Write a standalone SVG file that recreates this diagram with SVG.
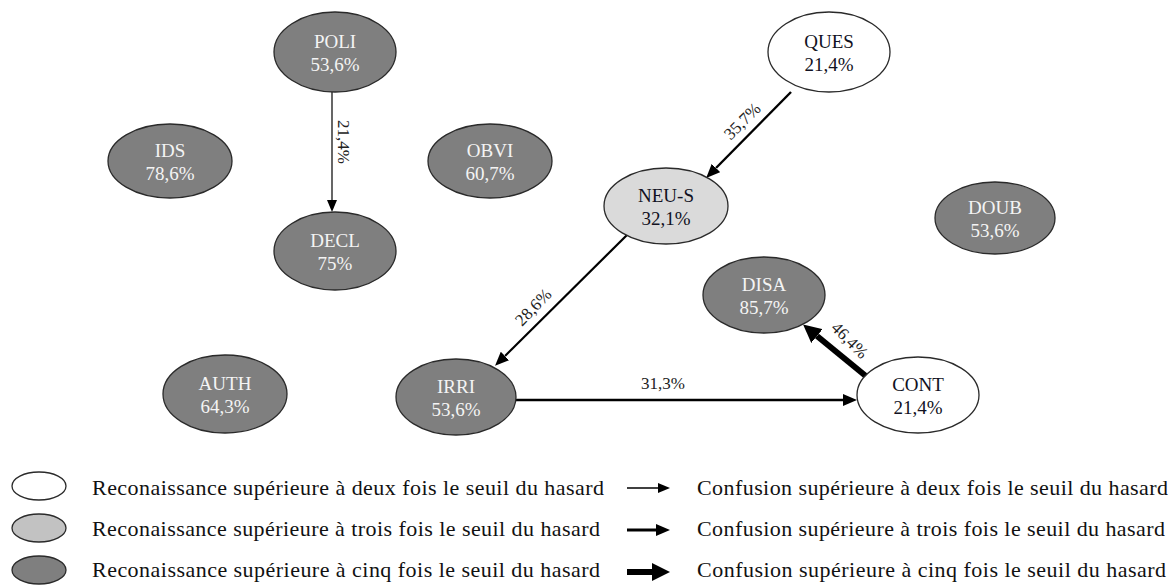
<svg xmlns="http://www.w3.org/2000/svg" width="1172" height="588" viewBox="0 0 1172 588">
<defs>
<style>
.n ellipse{stroke:#2a2a2a;stroke-width:1.3}
.dark ellipse{fill:#7f7f7f}
.dark text{fill:#f4f4f4}
.light ellipse{fill:#dadada}
.white ellipse{fill:#ffffff}
.light text,.white text{fill:#111122}
text{font-family:"Liberation Serif","Times New Roman",serif}
.n text{font-size:19px;text-anchor:middle}
.lbl{font-size:17px;fill:#222;text-anchor:middle}
.e{stroke:#000;fill:none}
.leg{font-size:22px;fill:#111}
</style>
<marker id="ah1" markerUnits="userSpaceOnUse" markerWidth="12" markerHeight="10" refX="0" refY="5" orient="auto"><path d="M0,0 L12,5 L0,10 z" fill="#000"/></marker>
<marker id="ah2" markerUnits="userSpaceOnUse" markerWidth="14" markerHeight="12" refX="0" refY="6" orient="auto"><path d="M0,0 L14,6 L0,12 z" fill="#000"/></marker>
<marker id="ah3" markerUnits="userSpaceOnUse" markerWidth="18" markerHeight="18" refX="0" refY="9" orient="auto"><path d="M0,0 L18,9 L0,18 z" fill="#000"/></marker>
</defs>
<rect width="1172" height="588" fill="#fff"/>

<g id="edges">
<line class="e" x1="332" y1="92" x2="332" y2="200" stroke-width="1.2" marker-end="url(#ah1)"/>
<line class="e" x1="791" y1="92" x2="716" y2="168" stroke-width="2.4" marker-end="url(#ah2)"/>
<line class="e" x1="627" y1="235" x2="505" y2="356" stroke-width="2.2" marker-end="url(#ah2)"/>
<line class="e" x1="516" y1="400" x2="843" y2="400" stroke-width="2.4" marker-end="url(#ah2)"/>
<line class="e" x1="867" y1="377" x2="817" y2="336" stroke-width="6" marker-end="url(#ah3)"/>
<text class="lbl" transform="translate(344,142) rotate(90)" x="0" y="6">21,4%</text>
<text class="lbl" transform="translate(742,121) rotate(-45)" x="0" y="6">35,7%</text>
<text class="lbl" transform="translate(533,307) rotate(-46)" x="0" y="6">28,6%</text>
<text class="lbl" transform="translate(663,383)" x="0" y="6">31,3%</text>
<text class="lbl" transform="translate(850,340) rotate(45)" x="0" y="6">46,4%</text>
</g>

<g id="POLI" class="n dark"><ellipse cx="335" cy="52" rx="61" ry="40"/><text x="335" y="48">POLI</text><text x="335" y="71">53,6%</text></g>
<g id="DECL" class="n dark"><ellipse cx="335" cy="251" rx="61" ry="39"/><text x="335" y="247">DECL</text><text x="335" y="270">75%</text></g>
<g id="IDS" class="n dark"><ellipse cx="170" cy="161" rx="62" ry="37"/><text x="170" y="157">IDS</text><text x="170" y="180">78,6%</text></g>
<g id="OBVI" class="n dark"><ellipse cx="490" cy="161" rx="62" ry="37"/><text x="490" y="157">OBVI</text><text x="490" y="180">60,7%</text></g>
<g id="QUES" class="n white"><ellipse cx="829" cy="52" rx="61" ry="40"/><text x="829" y="48">QUES</text><text x="829" y="71">21,4%</text></g>
<g id="NEU-S" class="n light"><ellipse cx="666" cy="206" rx="62" ry="38"/><text x="666" y="202">NEU-S</text><text x="666" y="225">32,1%</text></g>
<g id="DOUB" class="n dark"><ellipse cx="995" cy="218" rx="60" ry="36"/><text x="995" y="214">DOUB</text><text x="995" y="237">53,6%</text></g>
<g id="DISA" class="n dark"><ellipse cx="764" cy="295" rx="61" ry="38"/><text x="764" y="291">DISA</text><text x="764" y="314">85,7%</text></g>
<g id="AUTH" class="n dark"><ellipse cx="225" cy="394" rx="62" ry="39"/><text x="225" y="390">AUTH</text><text x="225" y="413">64,3%</text></g>
<g id="IRRI" class="n dark"><ellipse cx="456" cy="397" rx="60" ry="38"/><text x="456" y="393">IRRI</text><text x="456" y="416">53,6%</text></g>
<g id="CONT" class="n white"><ellipse cx="918" cy="395" rx="61" ry="38"/><text x="918" y="391">CONT</text><text x="918" y="414">21,4%</text></g>

<g id="legend">
<g class="n white"><ellipse cx="39" cy="486" rx="27" ry="14"/></g>
<g class="n light"><ellipse cx="39" cy="528" rx="27" ry="14" style="fill:#c2c2c2"/></g>
<g class="n dark"><ellipse cx="39" cy="570" rx="27" ry="14"/></g>
<text class="leg" x="92" y="495" textLength="512" lengthAdjust="spacing">Reconaissance supérieure à deux fois le seuil  du hasard</text>
<text class="leg" x="92" y="536" textLength="508" lengthAdjust="spacing">Reconaissance supérieure à trois fois le seuil du hasard</text>
<text class="leg" x="92" y="577" textLength="508" lengthAdjust="spacing">Reconaissance supérieure à cinq fois le seuil du hasard</text>
<line class="e" x1="627" y1="488" x2="658" y2="488" stroke-width="1.5" marker-end="url(#ah1)"/>
<line class="e" x1="627" y1="530" x2="656" y2="530" stroke-width="3" marker-end="url(#ah2)"/>
<line class="e" x1="627" y1="572" x2="652" y2="572" stroke-width="6" marker-end="url(#ah3)"/>
<text class="leg" x="697" y="495" textLength="471" lengthAdjust="spacing">Confusion supérieure à deux fois le seuil  du hasard</text>
<text class="leg" x="697" y="536" textLength="468" lengthAdjust="spacing">Confusion supérieure à trois fois le seuil du hasard</text>
<text class="leg" x="697" y="577" textLength="469" lengthAdjust="spacing">Confusion supérieure à cinq fois le seuil du hasard</text>
</g>
</svg>
